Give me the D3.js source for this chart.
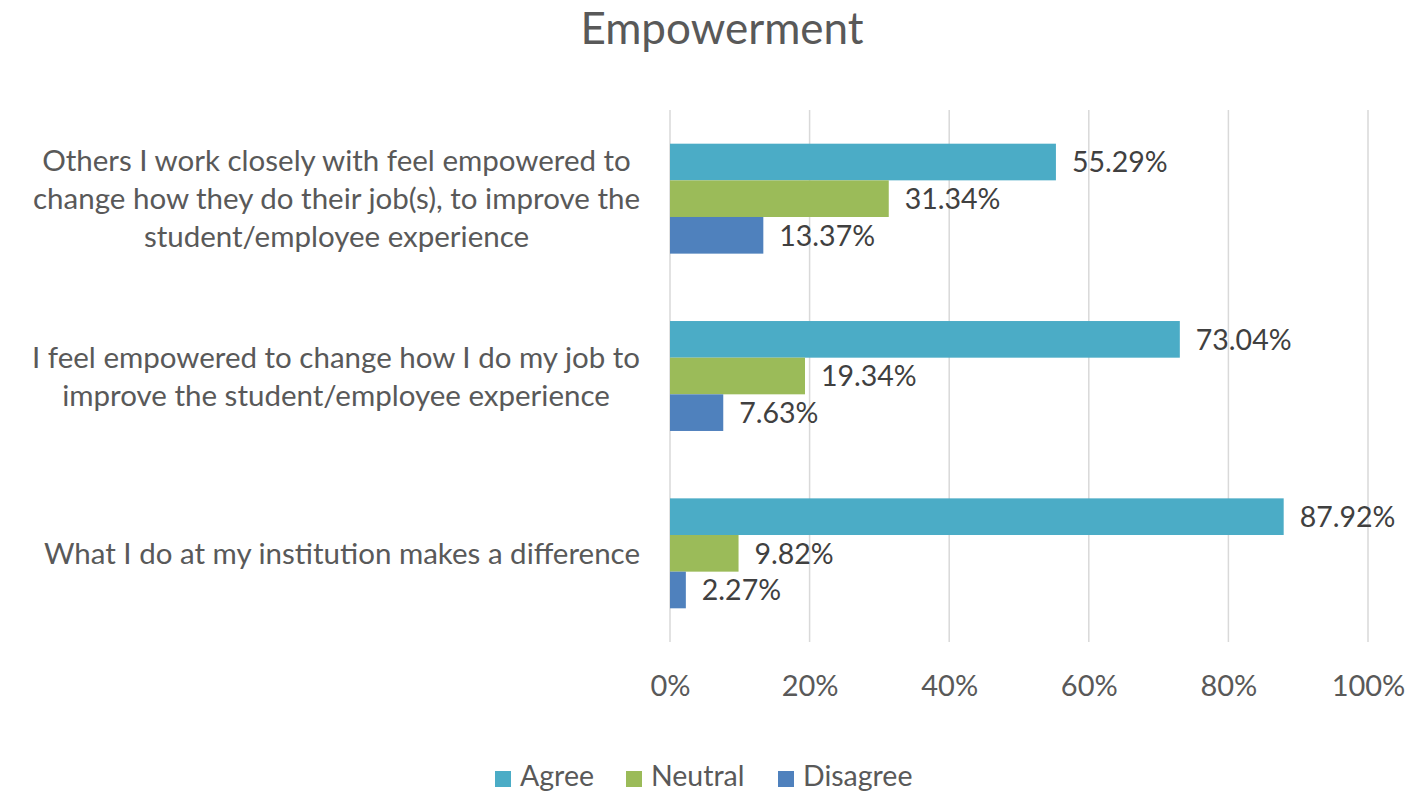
<!DOCTYPE html>
<html>
<head>
<meta charset="utf-8">
<script src="https://cdn.jsdelivr.net/npm/d3@7"></script>
<style>
  html, body { margin: 0; padding: 0; background: #fff; }
  svg { display: block; font-family: Lato, "Open Sans", sans-serif; }
</style>
</head>
<body>
<svg id="chart" width="1410" height="794"></svg>
<script>
// Survey statements (top to bottom) and response shares
const categories = [
  "Others I work closely with feel empowered to|change how they do their job(s), to improve the|student/employee experience",
  "I feel empowered to change how I do my job to|improve the student/employee experience",
  "What I do at my institution makes a difference"
];
const seriesNames = ["Agree", "Neutral", "Disagree"];
const agree = [55.29, 73.04, 87.92];
const neutral = [31.34, 19.34, 9.82];
const disagree = [13.37, 7.63, 2.27];
const tickValues = [0, 20, 40, 60, 80, 100];
const colors = ["#4BACC6", "#9BBB59", "#4F81BD"];

const series = [agree, neutral, disagree];
const svg = d3.select("#chart");

const plot = { left: 670, right: 1368, top: 110, bottom: 642 };

const x = d3.scaleLinear().domain([0, 100]).range([plot.left, plot.right]);
const y = d3.scaleBand().domain(d3.range(categories.length))
  .range([plot.top, plot.bottom]).paddingInner(0.38).paddingOuter(0.19);
const yInner = d3.scaleBand().domain(d3.range(seriesNames.length)).range([0, y.bandwidth()]);

// Title
svg.append("text")
  .attr("x", 722).attr("y", 44)
  .attr("text-anchor", "middle")
  .attr("font-size", 44)
  .attr("fill", "#595959")
  .text("Empowerment");

// Vertical gridlines
svg.append("g")
  .selectAll("line")
  .data(tickValues)
  .join("line")
  .attr("x1", d => x(d)).attr("x2", d => x(d))
  .attr("y1", plot.top).attr("y2", plot.bottom)
  .attr("stroke", "#D9D9D9").attr("stroke-width", 1.5);

// Value axis labels
const xAxis = d3.axisBottom(x).tickValues(tickValues).tickFormat(d => d + "%").tickSize(0).tickPadding(0);
const gx = svg.append("g")
  .attr("transform", `translate(0,${plot.bottom + 54})`)
  .call(xAxis);
gx.select(".domain").remove();
gx.selectAll("text")
  .attr("font-size", 29)
  .attr("font-family", "Lato, 'Open Sans', sans-serif")
  .attr("fill", "#595959")
  .attr("dy", 0);

// Bars
const groups = svg.append("g")
  .selectAll("g")
  .data(categories.map((c, i) => i))
  .join("g")
  .attr("transform", i => `translate(0,${y(i)})`);

groups.selectAll("rect")
  .data(i => series.map((s, k) => ({ k, v: s[i] })))
  .join("rect")
  .attr("x", x(0))
  .attr("y", d => yInner(d.k))
  .attr("width", d => x(d.v) - x(0))
  .attr("height", yInner.bandwidth())
  .attr("fill", d => colors[d.k]);

// Data labels
groups.selectAll("text.value")
  .data(i => series.map((s, k) => ({ k, v: s[i] })))
  .join("text")
  .attr("class", "value")
  .attr("x", d => x(d.v) + 16)
  .attr("y", d => yInner(d.k) + yInner.bandwidth() / 2)
  .attr("dy", "0.36em")
  .attr("font-size", 28.5)
  .attr("fill", "#404040")
  .text(d => d.v.toFixed(2) + "%");

// Category labels: wrapped lines centred within a right-aligned block
const lineH = 38;
categories.forEach((c, i) => {
  const lines = c.split("|");
  const g = svg.append("g");
  const t = g.selectAll("text").data(lines).join("text")
    .attr("font-size", 29.5)
    .attr("fill", "#595959")
    .attr("text-anchor", "middle")
    .attr("dy", "0.36em")
    .text(d => d);
  const w = d3.max(t.nodes(), n => n.getComputedTextLength());
  const cy = y(i) + y.bandwidth() / 2;
  t.attr("x", 640 - w / 2)
   .attr("y", (d, j) => cy + (j - (lines.length - 1) / 2) * lineH);
});

// Legend
const legendItems = [
  { name: seriesNames[0], sx: 495 },
  { name: seriesNames[1], sx: 626 },
  { name: seriesNames[2], sx: 778 }
];
const lg = svg.append("g").selectAll("g").data(legendItems).join("g");
lg.append("rect")
  .attr("x", d => d.sx).attr("y", 771)
  .attr("width", 16).attr("height", 16)
  .attr("fill", (d, k) => colors[k]);
lg.append("text")
  .attr("x", d => d.sx + 25).attr("y", 786)
  .attr("font-size", 28.5)
  .attr("fill", "#595959")
  .text(d => d.name);
</script>
</body>
</html>
